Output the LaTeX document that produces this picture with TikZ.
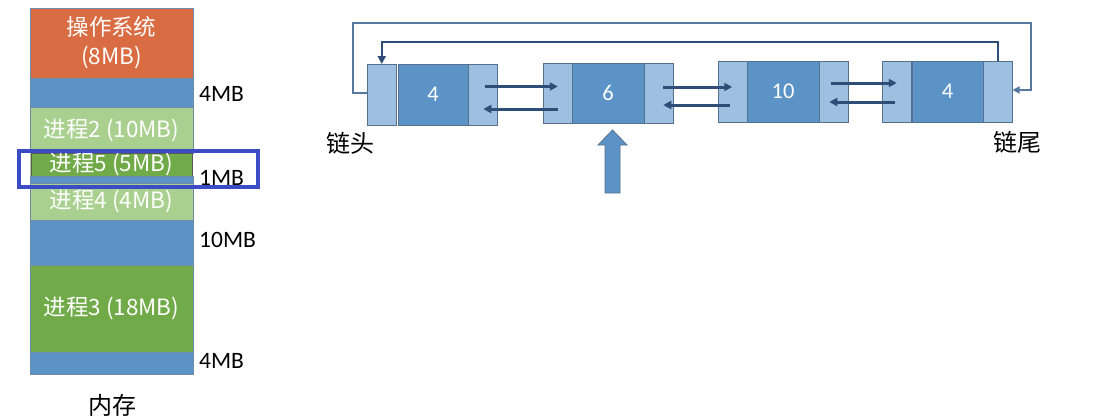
\documentclass[tikz,border=0pt]{standalone}
\usepackage{fontspec}
\setmainfont{Carlito}
\newfontfamily\cjk{Noto Sans CJK SC}
\usetikzlibrary{arrows.meta}
\definecolor{osor}{HTML}{D96C43}
\definecolor{memblue}{HTML}{5B93C6}
\definecolor{lgreen}{HTML}{A9D08E}
\definecolor{dgreen}{HTML}{71AA48}
\definecolor{hilite}{HTML}{3B4CC4}
\definecolor{nlight}{HTML}{9DC0E0}
\definecolor{nmid}{HTML}{5B93C6}
\definecolor{nedge}{HTML}{56718F}
\definecolor{medge}{HTML}{6F8BAA}
\definecolor{arr}{HTML}{2E4E78}
\definecolor{loopc}{HTML}{56779F}
\tikzset{
  memblk/.style={rectangle, anchor=north west, inner sep=0pt, outer sep=0pt,
    minimum width=163pt, draw=medge, line width=0.7pt, text=white,
    font=\cjk\fontsize{22.5}{29}\selectfont, align=center},
  sizelbl/.style={anchor=west, inner sep=0pt, font=\fontsize{23.5}{26}\selectfont},
  cnlbl/.style={inner sep=0pt, font=\cjk\fontsize{24}{26}\selectfont},
  lpart/.style={rectangle, anchor=north west, inner sep=0pt, outer sep=0pt,
    fill=nlight, draw=nedge, line width=1pt, minimum width=29.5pt},
  mpart/.style={rectangle, anchor=north west, inner sep=0pt, outer sep=0pt,
    fill=nmid, draw=nedge, line width=1pt, minimum width=71pt, text=white,
    font=\fontsize{22.5}{26}\selectfont},
  link/.style={draw=arr, line width=3pt, -{Triangle[length=8pt,width=8pt]}},
  outerloop/.style={draw=loopc, line width=1.8pt, -{Triangle[length=7pt,width=7pt]}},
  innerloop/.style={draw=arr, line width=2.2pt, -{Triangle[length=8pt,width=8pt]}}
}
\begin{document}
\begin{tikzpicture}[x=1pt,y=-1pt]
\useasboundingbox (0,0) rectangle (1096,418);
\fill[white] (0,0) rectangle (1096,418);

% ---------- memory column ----------
\node[memblk, fill=osor, minimum height=70pt] (os) at (30,8) {操作系统\\(8MB)};
\node[memblk, fill=memblue, minimum height=29pt] (f1) at (30,78) {};
\node[memblk, fill=lgreen, minimum height=46pt] (p2) at (30,107) {进程2 (10MB)};
\node[memblk, fill=lgreen, draw=none, minimum height=23pt] (p5bg) at (30,153) {};
\node[memblk, fill=dgreen, draw=gray!70!black, minimum width=161pt, minimum height=23pt] (p5) at (31,153) {进程5 (5MB)};
\node[memblk, fill=memblue, minimum height=7pt] (f2) at (30,176) {};
\node[memblk, fill=lgreen, minimum height=37pt] (p4) at (30,183) {进程4 (4MB)};
\node[memblk, fill=memblue, minimum height=45pt] (f3) at (30,220) {};
\node[memblk, fill=dgreen, minimum height=87pt] (p3) at (30,265) {进程3 (18MB)};
\node[memblk, fill=memblue, minimum height=22pt] (f4) at (30,352) {};

\node[sizelbl] (s1) at (199,94) {4MB};
\node[sizelbl] (s2) at (199,178) {1MB};
\node[sizelbl] (s3) at (199,240) {10MB};
\node[sizelbl] (s4) at (199,361) {4MB};
\node[cnlbl] (mem) at (112,405) {内存};

\draw[hilite, line width=4pt] (19,151) rectangle (258,187);

% ---------- linked list ----------
\node[lpart, minimum height=61pt] (n1l) at (367,64) {};
\node[mpart, minimum width=70pt, minimum height=61pt] (n1m) at (398,64) {4};
\node[lpart, minimum height=61pt] (n1r) at (468,64) {};

\node[lpart, minimum height=60pt] (n2l) at (543,63) {};
\node[mpart, minimum width=72pt, minimum height=60pt] (n2m) at (572,63) {6};
\node[lpart, minimum height=60pt] (n2r) at (644,63) {};

\node[lpart, minimum height=61pt] (n3l) at (718,61) {};
\node[mpart, minimum width=72pt, minimum height=61pt] (n3m) at (747,61) {10};
\node[lpart, minimum height=61pt] (n3r) at (819,61) {};

\node[lpart, minimum height=61pt] (n4l) at (882,61) {};
\node[mpart, minimum width=71pt, minimum height=61pt] (n4m) at (912,61) {4};
\node[lpart, minimum height=61pt] (n4r) at (983,61) {};

% links between neighbours
\draw[link] ([xshift=2.5pt,yshift=8pt]n1r.center) -- ([xshift=0pt,yshift=6.5pt]n2l.center);
\draw[link] ([xshift=0.5pt,yshift=-16pt]n2l.center) -- ([xshift=0.5pt,yshift=-14.5pt]n1r.center);
\draw[link] ([xshift=4.5pt,yshift=6pt]n2r.center) -- ([xshift=-0.5pt,yshift=4.5pt]n3l.center);
\draw[link] ([xshift=-2.5pt,yshift=-13.5pt]n3l.center) -- ([xshift=4.5pt,yshift=-12pt]n2r.center);
\draw[link] ([xshift=-2.5pt,yshift=8.5pt]n3r.center) -- ([xshift=0pt,yshift=8.5pt]n4l.center);
\draw[link] ([xshift=-2pt,yshift=-10.5pt]n4l.center) -- ([xshift=-4.5pt,yshift=-10.5pt]n3r.center);

% loops
\coordinate (topR) at (1031,23);
\draw[outerloop] ([yshift=1.5pt]n1l.west) -- ++(-14,0) |- (topR) |- ([yshift=1.5pt]n4r.east);
\draw[innerloop] (n4r.north) -- ++(0,-19) -| (n1l.north);

% pointer arrow
\draw[fill=memblue, draw=nedge, line width=0.8pt]
  (612.5,130) -- (627,145) -- (620,145) -- (620,193) -- (605,193) -- (605,145) -- (598,145) -- cycle;

\node[cnlbl] (head) at (350,143) {链头};
\node[cnlbl] (tail) at (1017,142) {链尾};
\end{tikzpicture}
\end{document}
